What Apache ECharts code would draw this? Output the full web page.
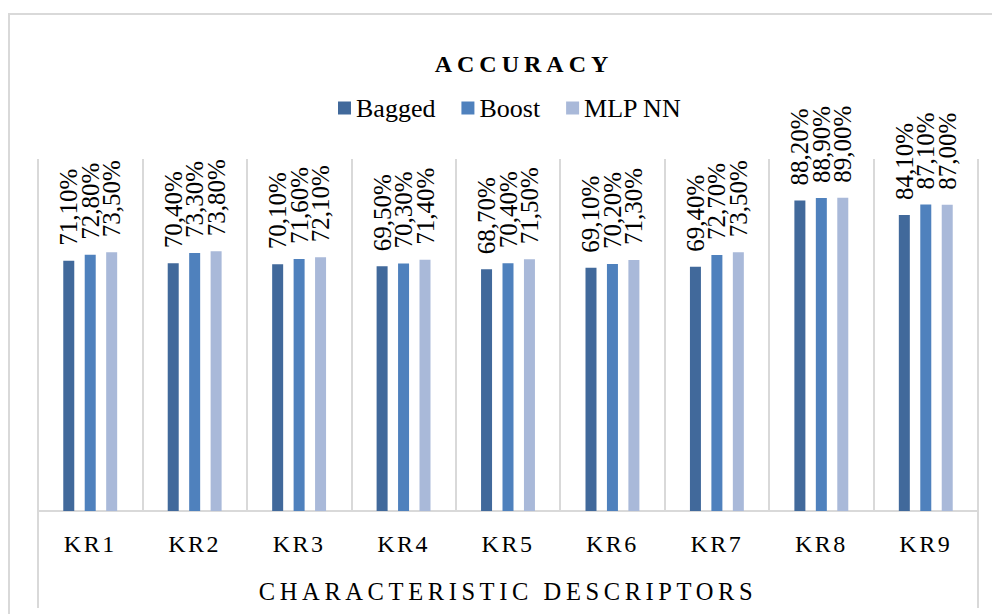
<!DOCTYPE html>
<html>
<head>
<meta charset="utf-8">
<script src="https://cdn.jsdelivr.net/npm/echarts@6/dist/echarts.min.js"></script>
<style>
  html, body { margin: 0; padding: 0; background: #fff; }
  #chart { width: 992px; height: 614px; }
  #chart text { font-family: 'Liberation Serif', serif !important; }
  /* Word-style letter spacing, picked out by font size */
  #chart text[style*="24px"] { letter-spacing: 2.5px; }
  #chart text[style*="24.5px"] { letter-spacing: 4.6px; }
  #chart text[style*="bold"] { letter-spacing: 5px; }
</style>
</head>
<body>
<div id="chart"></div>
<script>
  var categories = ['KR1', 'KR2', 'KR3', 'KR4', 'KR5', 'KR6', 'KR7', 'KR8', 'KR9'];
  var bagged = [71.1, 70.4, 70.1, 69.5, 68.7, 69.1, 69.4, 88.2, 84.1];
  var boost = [72.8, 73.3, 71.6, 70.3, 70.4, 70.2, 72.7, 88.9, 87.1];
  var mlpNN = [73.5, 73.8, 72.1, 71.4, 71.5, 71.3, 73.5, 89.0, 87.0];

  var serif = "'Liberation Serif', serif";
  var gridGray = '#d9d9d9';

  var chart = echarts.init(document.getElementById('chart'), null, { renderer: 'svg' });

  function pct(p) {
    return p.value.toFixed(2).replace('.', ',') + '%';
  }

  function makeSeries(name, data, color) {
    return {
      name: name,
      type: 'bar',
      data: data,
      barWidth: 11,
      barGap: '95%',
      itemStyle: { color: color },
      label: {
        show: true,
        position: 'top',
        distance: 15,
        rotate: 90,
        align: 'left',
        verticalAlign: 'middle',
        fontFamily: serif,
        fontSize: 25,
        color: '#000',
        formatter: pct
      }
    };
  }

  chart.setOption({
    animation: false,
    title: {
      text: 'ACCURACY',
      left: 524,
      top: 64,
      padding: 0,
      textAlign: 'center',
      textVerticalAlign: 'middle',
      textStyle: { fontFamily: serif, fontSize: 24, fontWeight: 'bold', color: '#000' }
    },
    legend: {
      left: 338,
      top: 95,
      padding: 0,
      itemWidth: 13,
      itemHeight: 13,
      itemGap: 26,
      icon: 'rect',
      textStyle: { fontFamily: serif, fontSize: 26, color: '#000' },
      data: ['Bagged', 'Boost', 'MLP NN']
    },
    grid: { left: 38, right: 14, top: 159, bottom: 103 },
    xAxis: {
      type: 'category',
      data: categories,
      name: 'CHARACTERISTIC DESCRIPTORS',
      nameLocation: 'middle',
      nameGap: 68,
      nameTextStyle: { fontFamily: serif, fontSize: 24.5, color: '#000' },
      axisLine: { lineStyle: { color: gridGray, width: 2 } },
      axisTick: { show: false },
      axisLabel: { margin: 21, fontFamily: serif, fontSize: 24, color: '#000' },
      splitLine: { show: true, lineStyle: { color: gridGray, width: 2 } }
    },
    yAxis: {
      type: 'value',
      min: 0,
      max: 100,
      show: false
    },
    series: [
      makeSeries('Bagged', bagged, '#41699b'),
      makeSeries('Boost', boost, '#4f81bd'),
      makeSeries('MLP NN', mlpNN, '#a9b9d9')
    ],
    graphic: [
      { type: 'rect', shape: { x: 9, y: 14, width: 1000, height: 700 },
        style: { fill: 'none', stroke: gridGray, lineWidth: 2 }, silent: true },
      { type: 'line', shape: { x1: 38, y1: 511, x2: 38, y2: 608 },
        style: { stroke: gridGray, lineWidth: 2 }, silent: true },
      { type: 'line', shape: { x1: 978, y1: 511, x2: 978, y2: 608 },
        style: { stroke: gridGray, lineWidth: 2 }, silent: true }
    ]
  });
</script>
</body>
</html>
